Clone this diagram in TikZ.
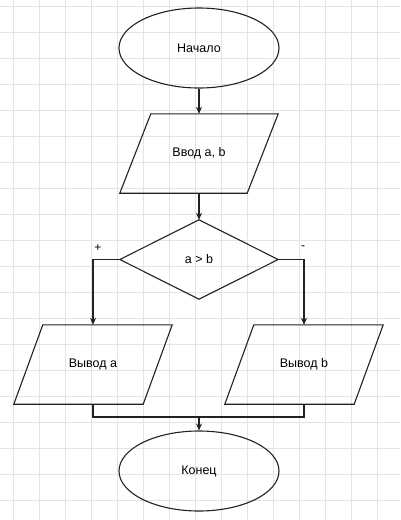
\documentclass[tikz,border=0pt]{standalone}
\usepackage{fontspec}
\setmainfont{Liberation Sans}
\usetikzlibrary{shapes.geometric,arrows.meta,calc}
\definecolor{gridc}{HTML}{E4E4E4}
\definecolor{linec}{HTML}{222222}
\begin{document}
\begin{tikzpicture}[x=1pt,y=-1pt,
  lbl/.style={font=\fontsize{12.5}{15}\selectfont, text=black},
  termbox/.style={ellipse, draw=linec, line width=1.1pt, minimum width=160pt, minimum height=80pt, inner sep=0pt, lbl},
  hidbox/.style={rectangle, minimum width=158pt, minimum height=79pt, inner sep=0pt, lbl},
  shapeline/.style={draw=linec, line width=1.1pt, line join=miter},
  conn/.style={draw=linec, line width=1.1pt},
  arr/.style={conn, -{Stealth[length=7pt,width=6pt]}},
  signlbl/.style={font=\fontsize{12}{14}\selectfont, text=black}
]
\useasboundingbox (0,0) rectangle (400,520);
\fill[white] (0,0) rectangle (400,520);
% grid
\foreach \gx in {13,39,...,403} { \draw[gridc, line width=0.8pt] (\gx,0) -- (\gx,520); }
\foreach \gy in {6,32,...,520} { \draw[gridc, line width=0.8pt] (0,\gy) -- (400,\gy); }

% nodes
\node[termbox] (start) at (199,48) {Начало};
\node[hidbox] (inp) at (199,153.5) {Ввод a, b};
\draw[shapeline] ($(inp.north west)+(31,0)$) -- (inp.north east) -- ($(inp.south east)+(-31,0)$) -- (inp.south west) -- cycle;
\node[hidbox] (dec) at (199,259.5) {a > b};
\draw[shapeline] (dec.north) -- (dec.east) -- (dec.south) -- (dec.west) -- cycle;
\node[hidbox] (outa) at (93,364.5) {Вывод a};
\draw[shapeline] ($(outa.north west)+(29,0)$) -- (outa.north east) -- ($(outa.south east)+(-29,0)$) -- (outa.south west) -- cycle;
\node[hidbox] (outb) at (304,364.5) {Вывод b};
\draw[shapeline] ($(outb.north west)+(29,0)$) -- (outb.north east) -- ($(outb.south east)+(-29,0)$) -- (outb.south west) -- cycle;
\node[termbox] (fin) at (199,471) {Конец};

% connectors
\draw[arr] (start.south) -- (inp.north);
\draw[arr] (inp.south) -- (dec.north);
\draw[arr] (dec.west) -| (outa.north);
\draw[arr] (dec.east) -| (outb.north);
\node[signlbl] (plus) at (98,248) {+};
\node[signlbl] (minus) at (303,248) {-};
\coordinate (join) at (199,417);
\draw[conn] (outa.south) |- (join);
\draw[conn] (outb.south) |- (join);
\draw[arr] (join) -- (fin.north);
\end{tikzpicture}
\end{document}
